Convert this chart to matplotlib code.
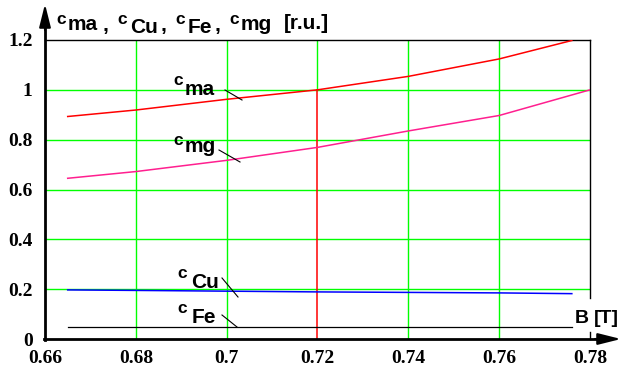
import matplotlib
matplotlib.use("Agg")
import matplotlib.pyplot as plt
from matplotlib.lines import Line2D

# ---- data ----
B_ma = [0.665, 0.68, 0.70, 0.72, 0.74, 0.76, 0.776]
c_ma = [0.893, 0.919, 0.962, 1.0, 1.054, 1.124, 1.198]
B_mg = [0.665, 0.68, 0.70, 0.72, 0.74, 0.76, 0.78]
c_mg = [0.645, 0.672, 0.717, 0.769, 0.835, 0.897, 1.0]
B_cu = [0.665, 0.68, 0.70, 0.72, 0.74, 0.76, 0.776]
c_cu = [0.197, 0.195, 0.192, 0.189, 0.187, 0.185, 0.182]
B_fe = [0.665, 0.776]
c_fe = [0.05, 0.05]

x_ticks = [0.66, 0.68, 0.70, 0.72, 0.74, 0.76, 0.78]
x_ticklabels = ['0.66', '0.68', '0.7', '0.72', '0.74', '0.76', '0.78']
y_ticks = [0, 0.2, 0.4, 0.6, 0.8, 1.0, 1.2]
y_ticklabels = ['0', '0.2', '0.4', '0.6', '0.8', '1', '1.2']

W, H = 622, 367
fig = plt.figure(figsize=(W / 100, H / 100), dpi=100)
ax = fig.add_axes([45 / W, 1 - 339 / H, 545 / W, 299 / H])
ax.set_xlim(0.66, 0.78)
ax.set_ylim(0, 1.2)
for s in ax.spines.values():
    s.set_visible(False)

green = '#00ff00'
# grid
for xv in x_ticks[1:-1]:
    if abs(xv - 0.72) < 1e-9:
        ax.plot([xv, xv], [1.0, 1.2], color=green, lw=1.0, zorder=1)
        ax.plot([xv, xv], [0, 1.0], color='#ff0000', lw=1.1, zorder=2)
    else:
        ax.plot([xv, xv], [0, 1.2], color=green, lw=1.0, zorder=1)
for yv in y_ticks[1:-1]:
    ax.plot([0.66, 0.78], [yv, yv], color=green, lw=1.0, zorder=1)
# frame lines
ax.plot([0.66, 0.78], [1.2, 1.2], color='black', lw=1.0, zorder=3, clip_on=False)
ax.plot([0.78, 0.78], [0.165, 1.2], color='black', lw=1.0, zorder=3, clip_on=False)
ax.plot([0.78, 0.78], [0, 0.03], color='black', lw=1.0, zorder=3, clip_on=False)

# curves
ax.plot(B_ma, c_ma, color='#ff0000', lw=1.1, zorder=4)
ax.plot(B_mg, c_mg, color='#ff1f8f', lw=1.1, zorder=4)
ax.plot(B_cu, c_cu, color='#0000ff', lw=1.1, zorder=4)
ax.plot(B_fe, c_fe, color='black', lw=0.9, zorder=4)

# ticks
ax.set_xticks(x_ticks)
ax.set_xticklabels(x_ticklabels)
ax.set_yticks(y_ticks)
ax.set_yticklabels(y_ticklabels)
ax.tick_params(length=0)
ax.tick_params(axis='x', pad=8)
ax.tick_params(axis='y', pad=9)
for lab in ax.get_xticklabels() + ax.get_yticklabels():
    lab.set_fontfamily('Liberation Serif')
    lab.set_fontweight('bold')
    lab.set_fontsize(14)

# axes arrows (figure pixel coords)
def fx(x):
    return x / W

def fy(y):
    return 1 - y / H

fig.add_artist(Line2D([fx(45), fx(45)], [fy(340), fy(20)], color='black', lw=2.0, transform=fig.transFigure))
ax.annotate('', xy=(fx(45), fy(4)), xytext=(fx(45), fy(30)), xycoords='figure fraction',
            arrowprops=dict(arrowstyle='-|>,head_length=1.4,head_width=0.35', color='black', lw=1.5,
                            mutation_scale=10, shrinkA=0, shrinkB=0))
fig.add_artist(Line2D([fx(44), fx(600)], [fy(339), fy(339)], color='black', lw=2.0, transform=fig.transFigure))
ax.annotate('', xy=(fx(621), fy(339)), xytext=(fx(595), fy(339)), xycoords='figure fraction',
            arrowprops=dict(arrowstyle='-|>,head_length=1.4,head_width=0.35', color='black', lw=1.5,
                            mutation_scale=10, shrinkA=0, shrinkB=0))

def ptext(x, y, s, size, weight='bold'):
    return fig.text(fx(x), fy(y), s, fontsize=size, va='baseline', ha='left',
                    family='Liberation Sans', weight=weight, color='black')

def leader(x0, y0, x1, y1):
    fig.add_artist(Line2D([fx(x0), fx(x1)], [fy(y0), fy(y1)], color='black', lw=0.8,
                          transform=fig.transFigure, zorder=6))

renderer = fig.canvas.get_renderer()

def chain(x0, pieces):
    x = x0
    for s, size, base, gap in pieces:
        x += gap
        t = ptext(x, base, s, size)
        x += t.get_window_extent(renderer).width

# title: (text, size, baseline px, gap before px)
chain(56, [
    ('c', 12.5, 24, 0), ('ma', 15, 30, 2), (',', 15, 31, 5),
    ('c', 12.5, 24, 9), ('Cu', 15, 33, 3), (',', 15, 31, 2),
    ('c', 12.5, 24, 9), ('Fe', 15, 33, 3), (',', 15, 31, 2),
    ('c', 12.5, 24, 9), ('mg', 15, 30, 2), ('[r.u.]', 15, 29, 12),
])

# curve labels
chain(173, [('c', 12.5, 85, 0), ('ma', 15, 95, 2)])
leader(225, 90, 242, 100)

chain(173, [('c', 12.5, 145, 0), ('mg', 15, 152, 2)])
leader(219, 150, 240, 162)

chain(177, [('c', 12.5, 278, 0), ('Cu', 15, 288, 5)])
leader(222, 278, 238, 297)

chain(177, [('c', 12.5, 313, 0), ('Fe', 15, 323, 5)])
leader(222, 315, 237, 327)

# axis label
ptext(575, 323, 'B', 14)
ptext(594, 323, '[T]', 14)

fig.savefig('out.png', dpi=100)
